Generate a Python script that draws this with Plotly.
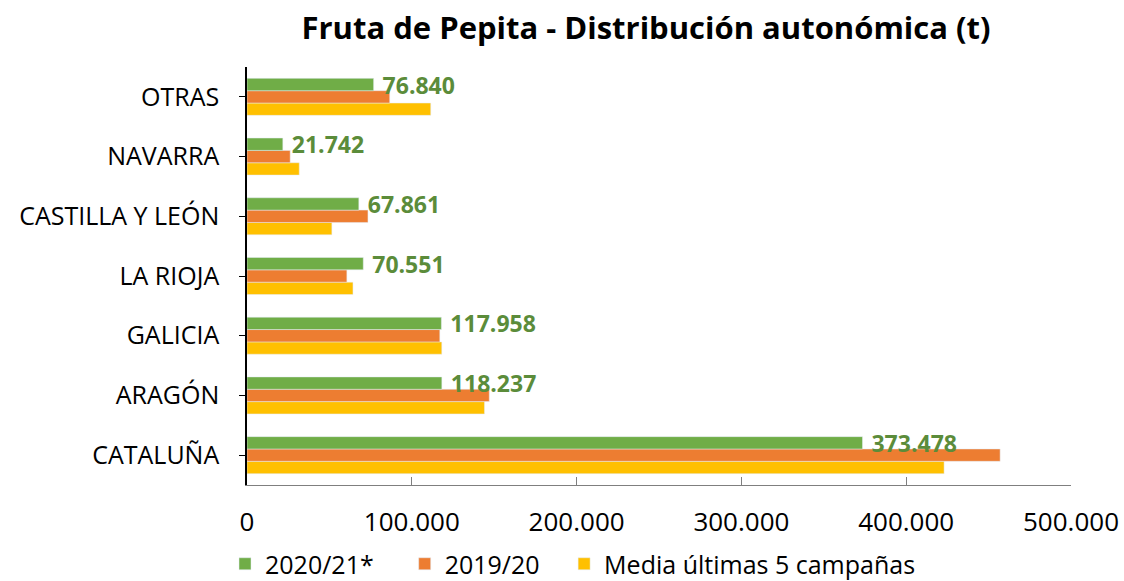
import plotly.graph_objects as go

categories = ["CATALUÑA", "ARAGÓN", "GALICIA", "LA RIOJA", "CASTILLA Y LEÓN", "NAVARRA", "OTRAS"]
s2021 = [373478, 118237, 117958, 70551, 67861, 21742, 76840]
s1920 = [457000, 147000, 117000, 60600, 73400, 26200, 86600]
media5 = [423000, 144100, 118200, 64300, 51500, 31700, 111500]

series_names = ["2020/21*", "2019/20", "Media últimas 5 campañas"]
colors = ["#70AD47", "#ED7D31", "#FFC000"]
xticks = [0, 100000, 200000, 300000, 400000, 500000]

FONT = "Open Sans"
W, H = 1124, 581
NB = "\u00a0"

fig = go.Figure()
# grouped horizontal bars are drawn bottom-to-top in trace order; add in reverse so green is on top
fig.add_trace(go.Bar(y=categories, x=media5, orientation="h", name=series_names[2],
                     marker=dict(color=colors[2]), legendrank=3))
fig.add_trace(go.Bar(y=categories, x=s1920, orientation="h", name=series_names[1] + NB * 3,
                     marker=dict(color=colors[1]), legendrank=2))
fig.add_trace(go.Bar(y=categories, x=s2021, orientation="h", name=series_names[0] + NB * 4,
                     marker=dict(color=colors[0]), legendrank=1,
                     texttemplate=NB + "%{x:,d}", textposition="outside", cliponaxis=False,
                     constraintext="none",
                     textfont=dict(family=FONT, size=23, color="#5B8C3A", weight="bold")))

fig.update_layout(
    width=W, height=H,
    paper_bgcolor="white", plot_bgcolor="white",
    separators=",.",
    barmode="group", bargap=0.38, bargroupgap=0,
    margin=dict(l=247, r=53, t=67, b=96, autoexpand=False),
    font=dict(family=FONT, size=24, color="#000000"),
    title=dict(text="<b>Fruta de Pepita - Distribución autonómica (t)</b>",
               x=646 / W, xanchor="center", y=1 - 28 / H, yanchor="middle",
               font=dict(family=FONT, size=31, color="#000000")),
    xaxis=dict(range=[0, 500000], tickvals=xticks, tickformat=",d", automargin=False,
               showgrid=False, zeroline=False, showline=True, linecolor="#7f7f7f",
               linewidth=1, ticks="inside", ticklen=8, tickcolor="#7f7f7f",
               ticklabelstandoff=14, ticklabeloverflow="allow",
               tickfont=dict(family=FONT, size=26, color="#000000")),
    yaxis=dict(showgrid=False, zeroline=False, showline=True, linecolor="#000000",
               linewidth=1.5, ticks="outside", ticklen=6, tickcolor="#000000",
               ticklabelstandoff=15, automargin=False,
               tickfont=dict(family=FONT, size=25, color="#000000")),
    legend=dict(orientation="h", x=(225 - 247) / 824, xanchor="left",
                y=(485 - 564) / 418, yanchor="middle",
                font=dict(family=FONT, size=25, color="#000000"),
                bgcolor="rgba(0,0,0,0)", itemwidth=30, traceorder="normal"),
)

fig.write_html("out.html", config={"displayModeBar": False},
               post_script="document.body.style.margin='0';")
